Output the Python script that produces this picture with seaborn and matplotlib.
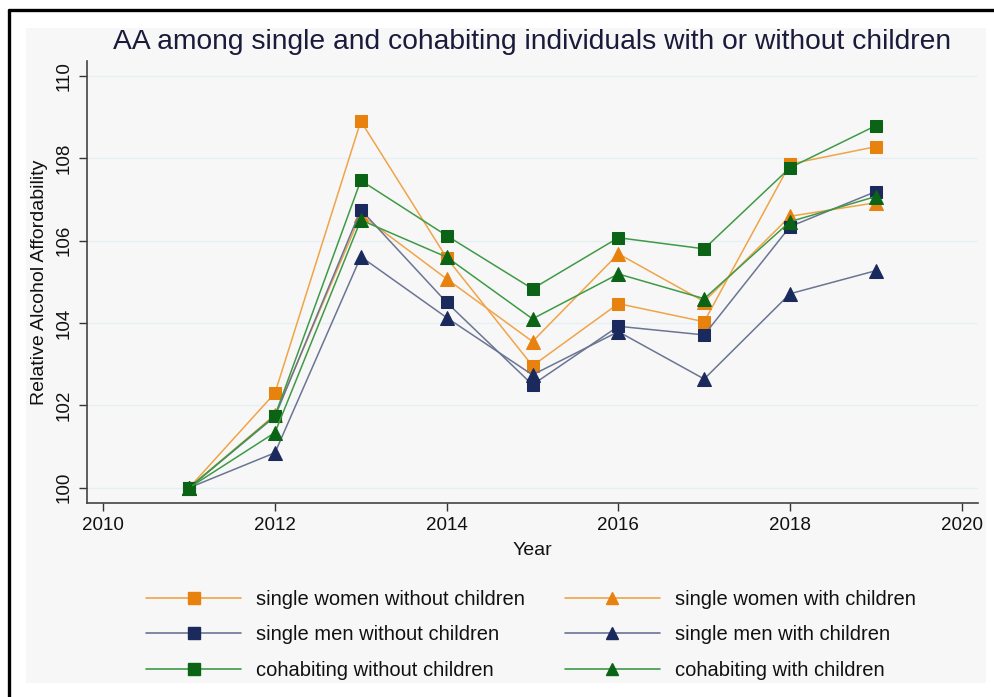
import matplotlib
matplotlib.use("Agg")
import matplotlib.pyplot as plt
from matplotlib.patches import Rectangle
from matplotlib.lines import Line2D
import seaborn as sns
import pandas as pd

# Relative alcohol affordability index (2011 = 100) by household type
years = [2011, 2012, 2013, 2014, 2015, 2016, 2017, 2018, 2019]

women_without = [100.0, 102.30, 108.90, 105.58, 102.96, 104.47, 104.03, 107.86, 108.28]
women_with = [100.0, 101.77, 106.63, 105.07, 103.55, 105.68, 104.52, 106.59, 106.92]
men_without = [100.0, 101.73, 106.75, 104.50, 102.50, 103.92, 103.71, 106.34, 107.19]
men_with = [100.0, 100.85, 105.61, 104.13, 102.74, 103.79, 102.64, 104.71, 105.27]
cohab_without = [100.0, 101.75, 107.46, 106.12, 104.83, 106.07, 105.80, 107.77, 108.79]
cohab_with = [100.0, 101.34, 106.50, 105.60, 104.10, 105.19, 104.59, 106.46, 107.07]

series_names = [
    "single women without children",
    "single women with children",
    "single men without children",
    "single men with children",
    "cohabiting without children",
    "cohabiting with children",
]
series_values = [women_without, women_with, men_without, men_with,
                 cohab_without, cohab_with]

x_ticks = [2010, 2012, 2014, 2016, 2018, 2020]
y_ticks = [100, 102, 104, 106, 108, 110]

# line colour, marker colour, marker shape per series
styles = {
    "single women without children": ("#f0a448", "#e8820f", "s"),
    "single women with children": ("#f0a448", "#e8820f", "^"),
    "single men without children": ("#6a7594", "#1b2a5c", "s"),
    "single men with children": ("#6a7594", "#1b2a5c", "^"),
    "cohabiting without children": ("#3f9a46", "#0b6415", "s"),
    "cohabiting with children": ("#3f9a46", "#0b6415", "^"),
}

df = pd.DataFrame(
    [(y, name, v) for name, vals in zip(series_names, series_values)
     for y, v in zip(years, vals)],
    columns=["Year", "group", "value"],
)

sns.set_theme(style="white")
plt.rcParams["font.family"] = ["Liberation Sans", "DejaVu Sans"]

W, H = 994, 697
fig = plt.figure(figsize=(W / 100, H / 100), dpi=100)
fig.patch.set_facecolor("white")

# outer frame and light panel
fig.add_artist(Rectangle((26 / W, 1 - 683 / H), (986 - 26) / W, (683 - 28) / H,
                         transform=fig.transFigure, facecolor="#f7f7f7",
                         edgecolor="none", zorder=0))
fig.add_artist(Line2D([8.5 / W, 8.5 / W], [0, 1 - 10 / H], transform=fig.transFigure,
                      color="black", linewidth=2.4, zorder=5))
fig.add_artist(Line2D([8.5 / W, 1], [1 - 10 / H, 1 - 10 / H], transform=fig.transFigure,
                      color="black", linewidth=2.4, zorder=5))

ax = fig.add_axes([87 / W, 1 - 503 / H, (978 - 87) / W, (503 - 61) / H])
ax.set_facecolor("#f7f7f7")

for name in series_names:
    lc, mc, mk = styles[name]
    sub = df[df["group"] == name]
    sns.lineplot(data=sub, x="Year", y="value", ax=ax, color=lc, linewidth=1.1,
                 marker=mk, markersize=9 if mk == "s" else 9.5,
                 markerfacecolor=mc, markeredgecolor=mc, label=name,
                 legend=False)

ax.set_xlim(2009.81, 2020.19)
ax.set_ylim(99.63, 110.36)
ax.set_xticks(x_ticks)
ax.set_yticks(y_ticks)
ax.set_yticklabels([str(t) for t in y_ticks], rotation=90, va="center")
ax.tick_params(axis="both", direction="out", length=6, width=1, color="#333333",
               labelsize=13.5, labelcolor="#111111", bottom=True, left=True, pad=4)
ax.grid(axis="y", color="#e6f0f2", linewidth=1)
ax.grid(axis="x", visible=False)
for side in ["top", "right"]:
    ax.spines[side].set_visible(False)
for side in ["left", "bottom"]:
    ax.spines[side].set_color("#444444")
    ax.spines[side].set_linewidth(1.2)

ax.set_xlabel("Year", fontsize=14, color="#111111", labelpad=6)
ax.set_ylabel("Relative Alcohol Affordability", fontsize=14, color="#111111",
              labelpad=6)

fig.text(532 / W, 1 - 42 / H,
         "AA among single and cohabiting individuals with or without children",
         ha="center", va="center", fontsize=20.3, color="#1a1a3a")

# legend laid out row by row in two columns
handles = []
for name in series_names:
    lc, mc, mk = styles[name]
    handles.append(Line2D([], [], color=lc, linewidth=1.2, marker=mk,
                          markersize=8, markerfacecolor=mc, markeredgecolor=mc))
order = [0, 2, 4, 1, 3, 5]
leg = fig.legend([handles[i] for i in order], [series_names[i] for i in order],
                 ncol=2, loc="center", bbox_to_anchor=(531 / W, 1 - 635 / H),
                 frameon=False, handlelength=4.7, handletextpad=0.75,
                 columnspacing=2.0, labelspacing=0.8,
                 prop={"size": 14.5})
for t in leg.get_texts():
    t.set_color("#111111")

fig.savefig("out.png", dpi=100, facecolor="white")
